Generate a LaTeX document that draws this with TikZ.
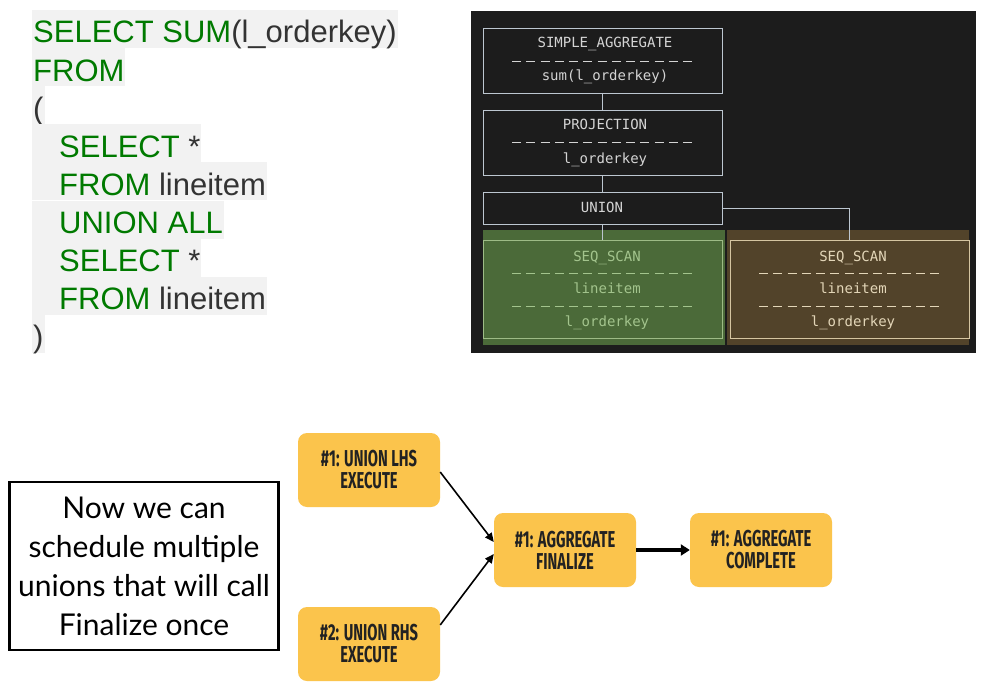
\documentclass[tikz,border=0pt]{standalone}
\usepackage{fontspec}
\setmainfont{Liberation Sans}
\newfontfamily\monofont{DejaVu Sans Mono}
\newfontfamily\condfont[FakeStretch=0.64]{Fira Sans}
\newfontfamily\notefont{Lato}
\usetikzlibrary{arrows.meta}
\definecolor{codebg}{HTML}{F2F2F2}
\definecolor{codekw}{HTML}{007A00}
\definecolor{codetext}{HTML}{333333}
\definecolor{panel}{HTML}{1C1C1C}
\definecolor{planline}{HTML}{BCC6D0}
\definecolor{plantext}{HTML}{D4D4D4}
\definecolor{greenbg}{HTML}{4B6A39}
\definecolor{greenline}{HTML}{9DBB86}
\definecolor{greentext}{HTML}{A3C48D}
\definecolor{brownbg}{HTML}{52432A}
\definecolor{brownline}{HTML}{D5C5A1}
\definecolor{browntext}{HTML}{E3D6B8}
\definecolor{taskfill}{HTML}{FBC44C}
\definecolor{tasktext}{HTML}{222222}
\newcommand{\kw}[1]{\textcolor{codekw}{#1}}
\tikzset{
  codeline/.style={anchor=base west, fill=codebg, inner xsep=1pt, inner ysep=0pt,
    text height=33pt, text depth=5pt, text=codetext, font=\fontsize{31}{38}\selectfont},
  planbox/.style={draw=#1, line width=0.8pt, minimum width=239pt, inner sep=0pt},
  plantxt/.style={anchor=base, inner sep=0pt, text=#1, font=\monofont\fontsize{14}{16}\selectfont},
  dashrow/.style={draw=#1, line width=0.9pt, dash pattern=on 9pt off 5.25pt},
  taskbox/.style={fill=taskfill, rounded corners=9pt, minimum width=142pt, minimum height=74pt,
    align=center, inner sep=0pt, text=tasktext, font=\condfont\bfseries\fontsize{23}{22}\selectfont},
  thinarrow/.style={draw=black, line width=1.6pt, -{Triangle[length=9pt,width=8pt]}},
  thickarrow/.style={draw=black, line width=3.5pt, -{Triangle[length=9pt,width=11pt]}},
  notebox/.style={draw=black, line width=2.5pt, minimum width=269pt, minimum height=168pt,
    align=center, inner sep=0pt, font=\notefont\fontsize{30}{39}\selectfont}
}
\begin{document}
\begin{tikzpicture}[x=1pt,y=-1pt]
\useasboundingbox (0,0) rectangle (990,690);
\fill[white] (0,0) rectangle (990,690);
% SQL code
\node[codeline] (c1) at (32,43) {\kw{SELECT SUM}(l\_orderkey)};
\node[codeline] (c2) at (32,81.1) {\kw{FROM}};
\node[codeline] (c3) at (32,119.2) {(};
\node[codeline] (c4) at (32,157.3) {\hspace*{26pt}\kw{SELECT} *};
\node[codeline] (c5) at (32,195.4) {\hspace*{26pt}\kw{FROM} lineitem};
\node[codeline] (c6) at (32,233.5) {\hspace*{26pt}\kw{UNION ALL}};
\node[codeline] (c7) at (32,271.6) {\hspace*{26pt}\kw{SELECT} *};
\node[codeline] (c8) at (32,309.7) {\hspace*{26pt}\kw{FROM} lineitem};
\node[codeline] (c9) at (32,347.8) {)};
% plan panel
\fill[panel] (471,11) rectangle (976,353);
\fill[greenbg] (483,230) rectangle (725,345);
\fill[brownbg] (727,230) rectangle (969,345);
\node[planbox=planline, minimum height=65pt] (agg) at (602.5,60.5) {};
\node[planbox=planline, minimum height=65pt] (proj) at (602.5,142.5) {};
\node[planbox=planline, minimum height=32pt] (union) at (602.5,208) {};
\node[planbox=greenline, minimum height=98pt] (scan1) at (602.5,289) {};
\node[planbox=brownline, minimum height=98pt] (scan2) at (849.5,289) {};
\draw[planline, line width=0.8pt] (agg.south) -- (proj.north);
\draw[planline, line width=0.8pt] (proj.south) -- (union.north);
\draw[planline, line width=0.8pt] (union.south) -- (scan1.north);
\draw[planline, line width=0.8pt] (union.east) -| (scan2.north);
\node[plantxt=plantext] (t1) at (605,48) {SIMPLE\_AGGREGATE};
\draw[dashrow=plantext] (512,61) -- (692,61);
\node[plantxt=plantext] (t2) at (605,81) {sum(l\_orderkey)};
\node[plantxt=plantext] (t3) at (605,130) {PROJECTION};
\draw[dashrow=plantext] (512,142) -- (692,142);
\node[plantxt=plantext] (t4) at (605,163) {l\_orderkey};
\node[plantxt=plantext] (t5) at (602,212) {UNION};
\node[plantxt=greentext] (t6) at (607,261) {SEQ\_SCAN};
\draw[dashrow=greentext] (512,273) -- (692,273);
\node[plantxt=greentext] (t7) at (607,293) {lineitem};
\draw[dashrow=greentext] (512,306) -- (692,306);
\node[plantxt=greentext] (t8) at (607,326) {l\_orderkey};
\node[plantxt=browntext] (t9) at (853,261) {SEQ\_SCAN};
\draw[dashrow=browntext] (759,273) -- (939,273);
\node[plantxt=browntext] (t10) at (853,293) {lineitem};
\draw[dashrow=browntext] (759,306) -- (939,306);
\node[plantxt=browntext] (t11) at (853,326) {l\_orderkey};
% task graph
\node[taskbox] (lhs) at (369,470) {\#1: UNION LHS\\EXECUTE};
\node[taskbox] (rhs) at (369,644) {\#2: UNION RHS\\EXECUTE};
\node[taskbox] (fin) at (565,550) {\#1: AGGREGATE\\FINALIZE};
\node[taskbox] (done) at (761,550) {\#1: AGGREGATE\\COMPLETE};
\draw[thinarrow] ([yshift=-2pt]lhs.east) -- ([yshift=8pt]fin.west);
\draw[thinarrow] ([yshift=19pt]rhs.east) -- ([yshift=-4pt]fin.west);
\draw[thickarrow] (fin.east) -- (done.west);
% note
\node[notebox] (note) at (144,566) {Now we can\\schedule multiple\\unions that will call\\Finalize once};
\end{tikzpicture}
\end{document}
